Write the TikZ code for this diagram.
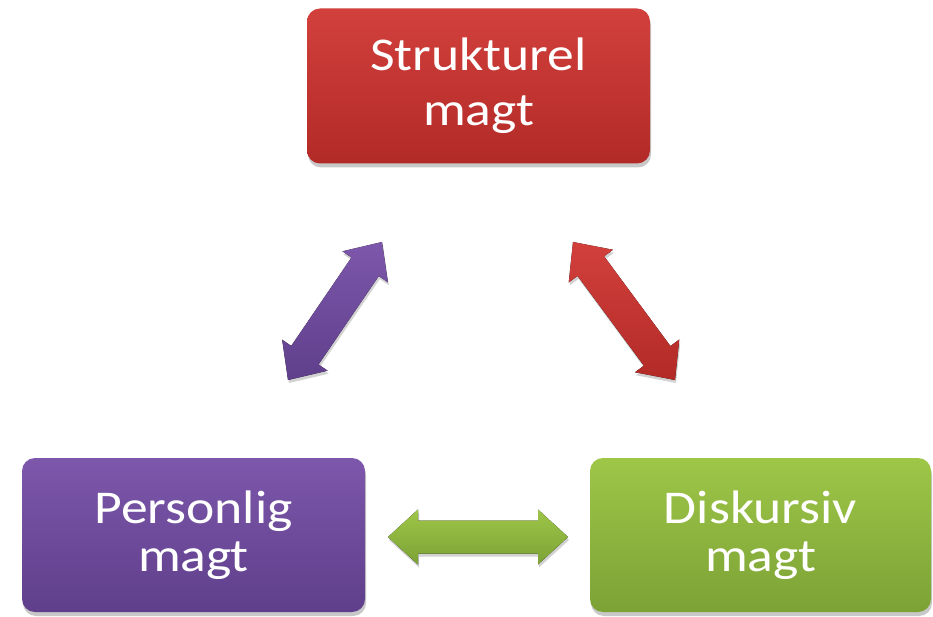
\documentclass[tikz,border=0pt]{standalone}
\usepackage{fontspec}
\newfontfamily\boxfont[FakeStretch=1.14]{Carlito}
\usetikzlibrary{calc,shadows}
\definecolor{redT}{HTML}{D2403C}
\definecolor{redB}{HTML}{B22A27}
\definecolor{purT}{HTML}{7D57AB}
\definecolor{purB}{HTML}{5F3F8B}
\definecolor{grnT}{HTML}{9EC647}
\definecolor{grnB}{HTML}{7CA236}
\tikzset{
  boxshadow/.style={drop shadow={shadow xshift=1pt, shadow yshift=-4pt, opacity=0.3, fill=black!70}},
  mbox/.style={rounded corners=13pt, minimum width=343pt, minimum height=155pt,
    align=center, text=white, inner sep=0pt, boxshadow},
  topfont/.style={font=\boxfont\fontsize{47}{55}\selectfont},
  botfont/.style={font=\boxfont\fontsize{47}{48}\selectfont},
}
\newcommand\dblarrow[3]{%
  \fill[#3, drop shadow={shadow xshift=1pt, shadow yshift=-3pt, opacity=0.25, fill=black!70}]
    (#1)
    -- ($(#1)!30pt!(#2)!27.5pt!90:(#2)$)
    -- ($(#1)!30pt!(#2)!16.5pt!90:(#2)$)
    -- ($(#2)!30pt!(#1)!16.5pt!-90:(#1)$)
    -- ($(#2)!30pt!(#1)!27.5pt!-90:(#1)$)
    -- (#2)
    -- ($(#2)!30pt!(#1)!27.5pt!90:(#1)$)
    -- ($(#2)!30pt!(#1)!16.5pt!90:(#1)$)
    -- ($(#1)!30pt!(#2)!16.5pt!-90:(#2)$)
    -- ($(#1)!30pt!(#2)!27.5pt!-90:(#2)$)
    -- cycle;}
\begin{document}
\begin{tikzpicture}[x=1pt,y=-1pt]
\useasboundingbox (0,0) rectangle (933,617);
\fill[white] (0,0) rectangle (933,617);
% boxes
\node[mbox, topfont, top color=redT, bottom color=redB] (struk) at (478.5,86) {Strukturel\\magt};
\node[mbox, botfont, top color=purT, bottom color=purB, minimum height=154pt] (pers) at (193.5,535) {Personlig\\magt};
\node[mbox, botfont, top color=grnT, bottom color=grnB, minimum width=341pt, minimum height=154pt] (disk) at (760.5,535) {Diskursiv\\magt};
% arrow ends
\coordinate (pa) at (288,380);
\coordinate (pb) at (382,242);
\coordinate (ra) at (573,242);
\coordinate (rb) at (675,380);
\coordinate (ga) at (388,537);
\coordinate (gb) at (568,537);
\dblarrow{pa}{pb}{top color=purT, bottom color=purB}
\dblarrow{ra}{rb}{top color=redT, bottom color=redB}
\dblarrow{ga}{gb}{top color=grnT, bottom color=grnB}
\end{tikzpicture}
\end{document}
